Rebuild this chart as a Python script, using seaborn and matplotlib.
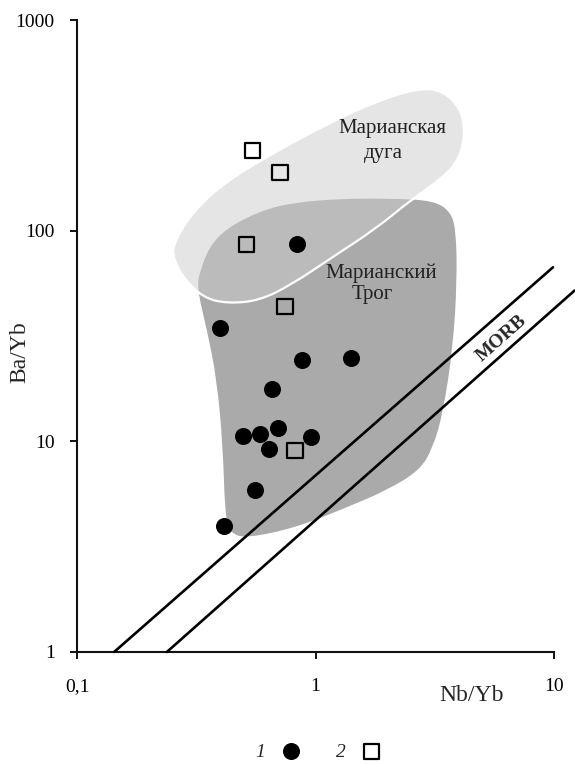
import numpy as np
import matplotlib
matplotlib.use('Agg')
import matplotlib.pyplot as plt
from matplotlib.path import Path
from matplotlib.patches import PathPatch
import seaborn as sns

# ------------------------------------------------------------
# Данные (Nb/Yb, Ba/Yb)
# ------------------------------------------------------------
# 1 - кружки
CIRCLE_NB = [0.836, 0.398, 0.878, 1.41, 0.657, 0.697, 0.497, 0.585, 0.638, 0.957, 0.557, 0.413]
CIRCLE_BA = [86.8, 34.7, 24.2, 25.0, 17.8, 11.6, 10.6, 10.8, 9.17, 10.5, 5.9, 3.96]
# 2 - квадраты
SQUARE_NB = [0.545, 0.709, 0.512, 0.745, 0.820]
SQUARE_BA = [241, 189, 85.9, 43.6, 9.07]

# поле "Марианский Трог"
TROUGH_NB = [0.318, 0.328, 0.361, 0.426, 0.585, 0.805, 1.30, 2.11, 3.11, 3.66, 3.88, 3.92,
             3.77, 3.42, 3.11, 2.74, 1.99, 1.36, 0.836, 0.516, 0.438, 0.417, 0.409, 0.386, 0.351]
TROUGH_BA = [53.7, 64.6, 84.9, 103, 124, 136, 142, 142, 139, 124, 102, 57.9,
             27.9, 13.6, 9.37, 7.29, 5.86, 4.87, 3.91, 3.47, 3.66, 4.56, 9.37, 19.5, 33.6]
# поле "Марианская дуга"
ARC_NB = [0.253, 0.307, 0.426, 0.690, 1.12, 1.81, 2.74, 3.42, 4.04, 4.24, 4.04, 3.42,
          2.49, 1.81, 1.12, 0.805, 0.585, 0.426, 0.338, 0.278, 0.253]
ARC_BA = [86.8, 124, 173, 239, 321, 413, 476, 461, 383, 298, 222, 178,
          139, 103, 72.1, 56.1, 46.6, 45.1, 48.1, 59.9, 74.5]

# линии MORB
MORB1_NB = [0.143, 9.9]
MORB1_BA = [1.0, 67]
MORB2_NB = [0.238, 12.2]
MORB2_BA = [1.0, 52]

X_TICKS = [0.1, 1, 10]
X_TICK_LABELS = ['0,1', '1', '10']
Y_TICKS = [1, 10, 100, 1000]
Y_TICK_LABELS = ['1', '10', '100', '1000']

SERIF = ['Liberation Serif', 'DejaVu Serif']


def smooth_outline(xs, ys):
    """замкнутый контур из квадратичных кривых (середины в лог-масштабе)"""
    xs = np.asarray(xs, float)
    ys = np.asarray(ys, float)
    mx = np.sqrt(xs * np.roll(xs, -1))
    my = np.sqrt(ys * np.roll(ys, -1))
    verts = [(mx[-1], my[-1])]
    codes = [Path.MOVETO]
    for i in range(len(xs)):
        verts += [(xs[i], ys[i]), (mx[i], my[i])]
        codes += [Path.CURVE3, Path.CURVE3]
    verts.append((mx[-1], my[-1]))
    codes.append(Path.CLOSEPOLY)
    return Path(verts, codes)


sns.set_theme(style='ticks')
plt.rcParams['font.family'] = SERIF
plt.rcParams['axes.unicode_minus'] = False

fig = plt.figure(figsize=(5.75, 7.64), dpi=100)
ax = fig.add_axes([0.134, 0.1466, 0.8295, 0.8272])
ax.set_xscale('log')
ax.set_yscale('log')
ax.set_xlim(0.1, 10)
ax.set_ylim(1, 1000)

# поля
ax.add_patch(PathPatch(smooth_outline(TROUGH_NB, TROUGH_BA), facecolor='#aaaaaa',
                       edgecolor='none', zorder=1))
ax.add_patch(PathPatch(smooth_outline(ARC_NB, ARC_BA), facecolor='#cdcdcd', alpha=0.5,
                       edgecolor='none', zorder=2))
ax.add_patch(PathPatch(smooth_outline(ARC_NB, ARC_BA), facecolor='none',
                       edgecolor='white', linewidth=1.6, zorder=2.1))

# MORB
ax.plot(MORB1_NB, MORB1_BA, color='black', lw=1.9, zorder=3, clip_on=False)
ax.plot(MORB2_NB, MORB2_BA, color='black', lw=1.9, zorder=3, clip_on=False)
ax.text(6.04, 30.7, 'MORB', rotation=41.5, rotation_mode='anchor', ha='center', va='center',
        fontsize=14, fontweight='bold', zorder=3)

# точки
sns.scatterplot(x=CIRCLE_NB, y=CIRCLE_BA, ax=ax, marker='o', s=150, color='black',
                edgecolor='black', linewidth=0, zorder=4, label='1')
sns.scatterplot(x=SQUARE_NB, y=SQUARE_BA, ax=ax, marker='s', s=120, facecolor='none',
                edgecolor='black', linewidth=1.6, zorder=4, label='2')

# подписи полей
ax.text(2.11, 291, 'Марианская', ha='center', va='baseline', fontsize=15, color='#222222')
ax.text(1.92, 222, 'дуга', ha='center', va='baseline', fontsize=15, color='#222222')
ax.text(1.88, 59.9, 'Марианский', ha='center', va='baseline', fontsize=15, color='#222222')
ax.text(1.725, 47.6, 'Трог', ha='center', va='baseline', fontsize=15, color='#222222')

# оси
sns.despine(ax=ax)
for side in ['left', 'bottom']:
    ax.spines[side].set_linewidth(1.5)
    ax.spines[side].set_color('#111111')
ax.set_xticks(X_TICKS, X_TICK_LABELS)
ax.set_yticks(Y_TICKS, Y_TICK_LABELS)
ax.minorticks_off()
ax.tick_params(axis='x', direction='out', length=5, width=1.3, pad=14, labelsize=14, colors='black')
ax.tick_params(axis='y', direction='out', length=5, width=1.3, pad=11, labelsize=14, colors='black')

ax.set_xlabel('Nb/Yb', fontsize=17)
ax.xaxis.set_label_coords(0.828, -0.052)
ax.set_ylabel('Ba/Yb', fontsize=17)
ax.yaxis.set_label_coords(-0.098, 0.475)

ax.legend(loc='center', bbox_to_anchor=(0.555, 0.016), bbox_transform=fig.transFigure,
          ncol=2, markerfirst=False, frameon=False, prop={'style': 'italic', 'size': 14},
          handletextpad=0.75, columnspacing=1.7, handlelength=1.2, borderpad=0.2)

fig.savefig('out.png', dpi=100)
